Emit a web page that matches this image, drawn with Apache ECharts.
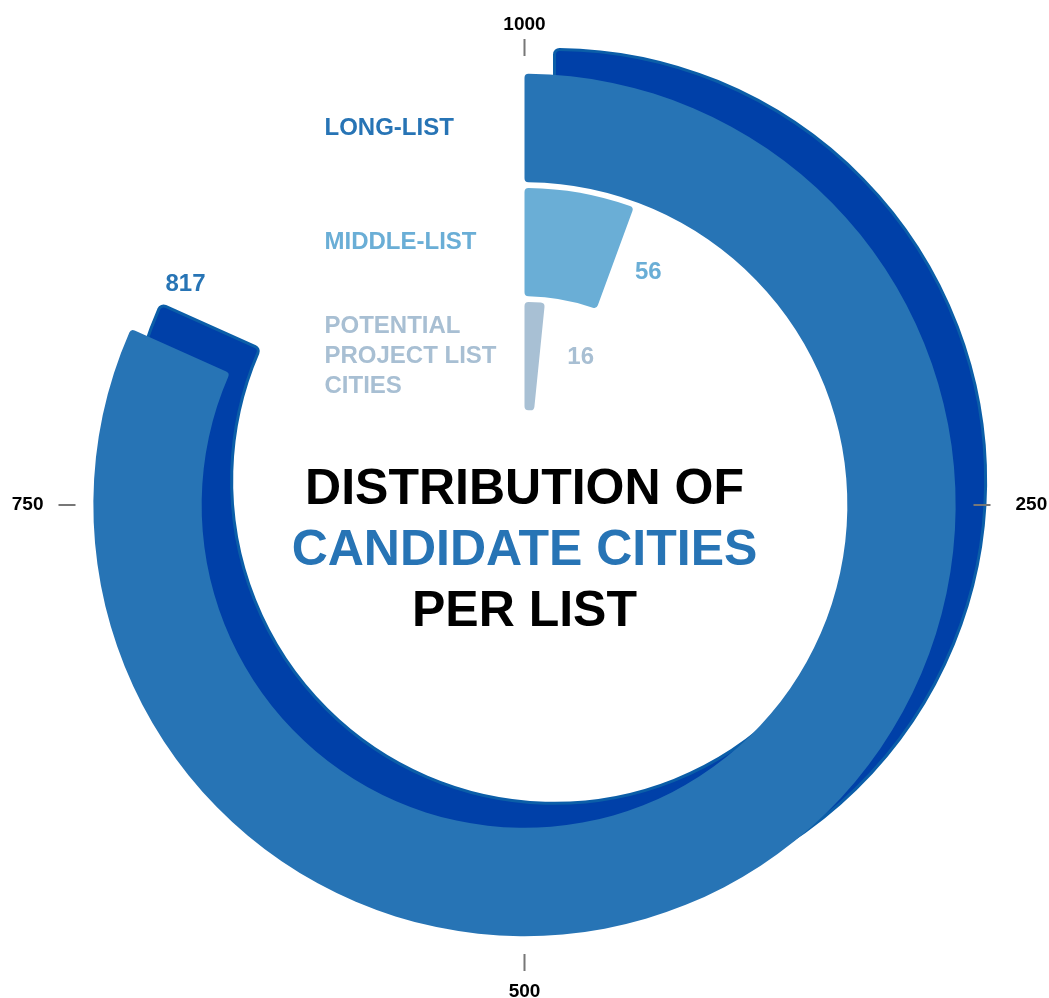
<!DOCTYPE html>
<html><head><meta charset="utf-8">
<script src="https://cdn.jsdelivr.net/npm/echarts@6/dist/echarts.min.js"></script>
<style>html,body{margin:0;padding:0;background:#fff}#c{width:1049px;height:998px}</style>
</head><body><div id="c"></div>
<script>
// ---- data ----
const categories = ['LONG-LIST', 'MIDDLE-LIST', 'POTENTIAL\nPROJECT LIST\nCITIES'];
const values = [817, 56, 16];
const shadowValues = [817, '-', '-'];
const angleTickValues = [0, 250, 500, 750];
const angleTickLabels = ['1000', '250', '500', '750'];
const titleLines = ['DISTRIBUTION OF', 'CANDIDATE CITIES', 'PER LIST'];

// ---- style ----
const FONT = '"Liberation Sans", Arial, Helvetica, sans-serif';
const barColors = ['#2774b5', '#6aaed6', '#a8c0d4'];
const labelColors = ['#2774b5', '#6aaed6', '#a8bfd3'];
const labelOffsets = [[0, 0], [1, 7], [8, -1]];
const tickLabelStyles = ['t', 'r', 'b', 'l'];

const chart = echarts.init(document.getElementById('c'), null, {renderer: 'canvas'});

const tickRichBase = {color: '#000', fontSize: 19, fontWeight: 'bold', fontFamily: FONT};

const option = {
  animation: false,
  backgroundColor: '#ffffff',
  title: {
    text: '{a|' + titleLines[0] + '}\n{b|' + titleLines[1] + '}\n{a|' + titleLines[2] + '}',
    left: 'center',
    top: 455,
    textStyle: {
      rich: {
        a: {fontSize: 50, fontWeight: 'bold', color: '#000', lineHeight: 61, fontFamily: FONT, align: 'center'},
        b: {fontSize: 50, fontWeight: 'bold', color: '#2774b5', lineHeight: 61, fontFamily: FONT, align: 'center'}
      }
    }
  },
  polar: [
    {center: [524.5, 505], radius: [92, 434]},
    {center: [554.5, 480.5], radius: [92, 434]},
    {center: [524.5, 505], radius: 449}
  ],
  angleAxis: [
    {polarIndex: 0, type: 'value', min: 0, max: 1000, startAngle: 90, clockwise: true, show: false},
    {polarIndex: 1, type: 'value', min: 0, max: 1000, startAngle: 90, clockwise: true, show: false},
    {
      polarIndex: 2, type: 'value', min: 0, max: 1000, interval: 250, startAngle: 90, clockwise: true,
      z: 10,
      axisLine: {show: false},
      splitLine: {show: false},
      axisTick: {show: true, length: 17, lineStyle: {color: '#777', width: 2}},
      axisLabel: {
        margin: 22,
        formatter: function (v) {
          const i = angleTickValues.indexOf(v);
          return i >= 0 ? '{' + tickLabelStyles[i] + '|' + angleTickLabels[i] + '}' : '';
        },
        rich: {
          t: Object.assign({}, tickRichBase),
          r: Object.assign({padding: [0, 0, 0, 20]}, tickRichBase),
          b: Object.assign({padding: [6, 0, 0, 0]}, tickRichBase),
          l: Object.assign({padding: [0, 10, 0, 0]}, tickRichBase)
        }
      }
    }
  ],
  radiusAxis: [
    {
      polarIndex: 0, type: 'category', data: categories, inverse: true,
      axisLine: {show: false}, axisTick: {show: false}, splitLine: {show: false},
      axisLabel: {
        interval: 0, margin: 200, align: 'left', fontSize: 24, fontWeight: 'bold', fontFamily: FONT, lineHeight: 30,
        color: function (value, index) { return labelColors[index]; }
      }
    },
    {polarIndex: 1, type: 'category', data: categories, inverse: true, show: false},
    {polarIndex: 2, type: 'value', show: false}
  ],
  series: [
    {
      type: 'bar', coordinateSystem: 'polar', polarIndex: 1, z: 1,
      barCategoryGap: '5%',
      data: shadowValues,
      itemStyle: {color: '#0040a8', borderColor: '#0b5ea8', borderWidth: 3, borderRadius: 5},
      label: {show: true, position: 'end', distance: 10, rotate: 0, offset: [-49, -33], color: '#2774b5', fontSize: 24, fontWeight: 'bold', fontFamily: FONT}
    },
    {
      type: 'bar', coordinateSystem: 'polar', polarIndex: 0, z: 2,
      barCategoryGap: '5%',
      data: values.map(function (v, i) {
        return {value: v, itemStyle: {color: barColors[i]}, label: {show: i > 0, color: labelColors[i], offset: labelOffsets[i]}};
      }),
      itemStyle: {borderRadius: 4},
      label: {position: 'end', distance: 20, rotate: 0, fontSize: 24, fontWeight: 'bold', fontFamily: FONT}
    }
  ]
};
chart.setOption(option);
</script>
</body></html>
